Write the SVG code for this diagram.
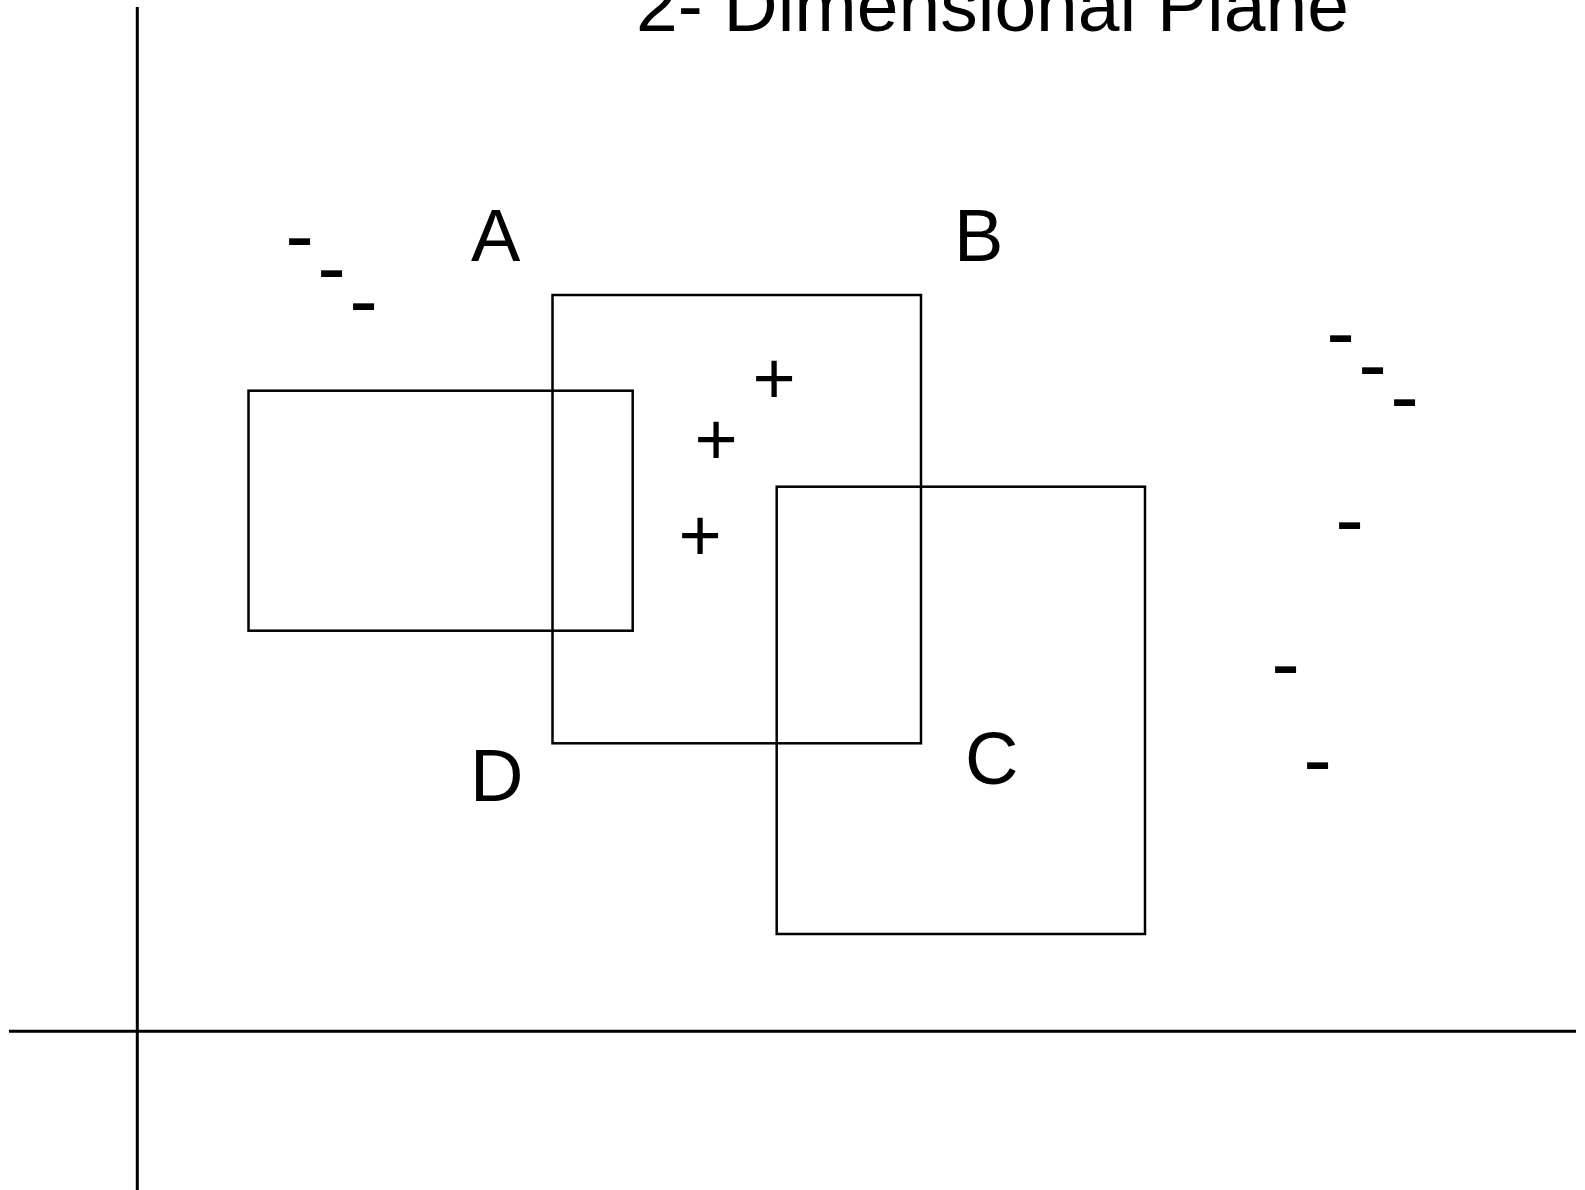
<svg xmlns="http://www.w3.org/2000/svg" width="1585" height="1190" viewBox="0 0 1585 1190">
<style>
.axis{stroke:#000;stroke-width:3;fill:none}
.box{stroke:#000;stroke-width:2.5;fill:none}
.lbl{font-family:"Liberation Sans",Arial,sans-serif;font-size:74px;fill:#000}
.title{font-family:"Liberation Sans",Arial,sans-serif;font-size:75px;fill:#000}
.sgn{font-family:"Liberation Sans",Arial,sans-serif;font-size:74px;fill:#000;text-anchor:middle}
.neg{font-family:"Liberation Sans",Arial,sans-serif;font-size:86px;fill:#000;text-anchor:middle}
</style>
<rect width="1585" height="1190" fill="#fff"/>
<g id="connectors">
<line class="axis" x1="137.3" y1="7" x2="137.3" y2="1190"/>
<line class="axis" x1="9" y1="1031.3" x2="1576" y2="1031.3"/>
</g>
<text id="title" class="title" x="636" y="31">2- Dimensional Plane</text>
<g id="rectA"><rect class="box" x="248.5" y="390.7" width="384.2" height="240"/></g>
<g id="rectB"><rect class="box" x="552.5" y="295" width="368.5" height="448.3"/></g>
<g id="rectC"><rect class="box" x="776.7" y="486.7" width="368.3" height="447.3"/></g>
<g id="labels">
<text class="lbl" x="471" y="261">A</text>
<text class="lbl" x="954" y="261">B</text>
<text class="lbl" x="965" y="784">C</text>
<text class="lbl" x="470" y="801">D</text>
</g>
<g id="positives">
<text class="sgn" x="774" y="404">+</text>
<text class="sgn" x="716" y="465">+</text>
<text class="sgn" x="700" y="561">+</text>
</g>
<g id="negatives">
<text class="neg" x="299.5" y="264.3">-</text>
<text class="neg" x="331.5" y="296.2">-</text>
<text class="neg" x="363.5" y="328.5">-</text>
<text class="neg" x="1340.5" y="360.5">-</text>
<text class="neg" x="1372.5" y="392.5">-</text>
<text class="neg" x="1404.5" y="424.5">-</text>
<text class="neg" x="1349.5" y="548.3">-</text>
<text class="neg" x="1285.5" y="692.3">-</text>
<text class="neg" x="1317.5" y="788.3">-</text>
</g>
</svg>
